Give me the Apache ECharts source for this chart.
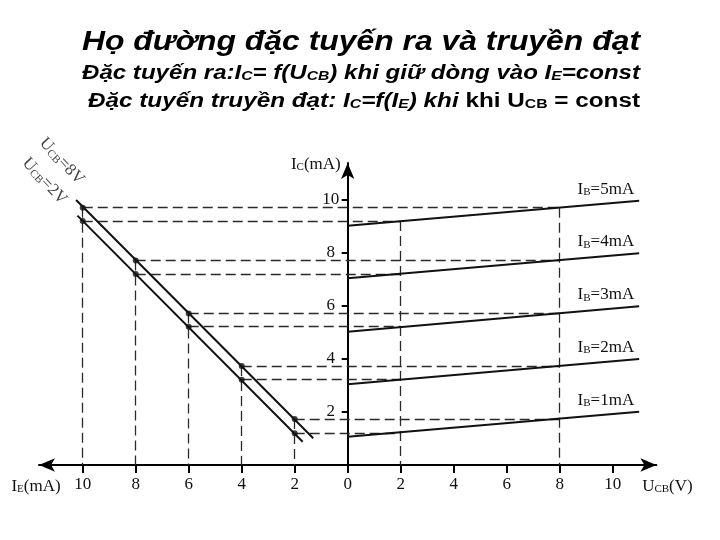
<!DOCTYPE html>
<html>
<head>
<meta charset="utf-8">
<script src="https://cdn.jsdelivr.net/npm/echarts@6/dist/echarts.min.js"></script>
<style>
  html, body { margin: 0; padding: 0; background: #fff; }
  #chart { width: 720px; height: 540px; }
</style>
</head>
<body>
<div id="chart"></div>
<script>
// tick values
const ieTicks = [10, 8, 6, 4, 2];
const ucbTicks = [0, 2, 4, 6, 8, 10];
const icTicks = [2, 4, 6, 8, 10];

// transfer characteristic IC = f(IE), dots read at IE = 10, 8, 6, 4, 2
const iePoints = [10, 8, 6, 4, 2];
const icAt8V = [9.71, 7.72, 5.72, 3.74, 1.74];
const icAt2V = [9.21, 7.21, 5.22, 3.22, 1.20];
// ends of the two transfer lines, [IE, IC]
const line8V = [[10.25, 10.0], [1.30, 1.01]];
const line2V = [[10.2, 9.41], [1.70, 0.88]];
const ucbCurves = ['8V', '2V'];
const ucbGuides = [8, 2];            // UCB where each family meets the output curves
const ucbLabelAt = [[10.75, 11.5], [11.4, 10.75]];  // [IE, IC] centre of rotated labels

// output characteristic IC = f(UCB) for IB = 5..1 mA
const ibValues = [5, 4, 3, 2, 1];
const icAtUcbStart = [9.03, 7.05, 5.03, 3.05, 1.07];
const icAtUcbEnd = [9.97, 7.99, 5.99, 4.00, 2.01];
const ucbStart = 0;
const ucbEnd = 11;

const SERIF = '"Liberation Serif", "Times New Roman", serif';
const SANS = '"Liberation Sans", Arial, sans-serif';
const INK = '#111';

const serifRich = {
  n: { fontFamily: SERIF, fontSize: 17, color: INK, lineHeight: 20, verticalAlign: 'bottom' },
  s: { fontFamily: SERIF, fontSize: 11, color: INK, lineHeight: 12, verticalAlign: 'bottom' }
};
const withSub = (main, s, rest) => `{n|${main}}{s|${s}}{n|${rest}}`;

// title lines, fragments of [text, style]
const titleLines = [
  [['Họ đường đặc tuyến ra và truyền đạt', 't']],
  [['Đặc tuyến ra:I', 'i'], ['C', 'is'], ['= f(U', 'i'], ['CB', 'is'], [') khi giữ dòng vào I', 'i'], ['E', 'is'], ['=const', 'i']],
  [['Đặc tuyến truyền đạt: I', 'i'], ['C', 'is'], ['=f(I', 'i'], ['E', 'is'], [') khi', 'i'], [' khi U', 'n'], ['CB', 'ns'], [' = const', 'n']]
];
const titleFonts = {
  t: ['italic', 'bold', 27],
  i: ['italic', 'bold', 20],
  is: ['italic', 'bold', 13],
  n: ['normal', 'bold', 20],
  ns: ['normal', 'bold', 13]
};
const titleBox = [
  { x: 361, y: 40, w: 558 },
  { x: 361, y: 71, w: 558 },
  { x: 364, y: 99, w: 552 }
];

const titleRich = {};
Object.keys(titleFonts).forEach(k => {
  const [st, wt, size] = titleFonts[k];
  const small = k === 'is' || k === 'ns';
  titleRich[k] = {
    fontFamily: SANS, fontStyle: st, fontWeight: wt, fontSize: size, fill: '#000',
    lineHeight: k === 't' ? 32 : (small ? 14 : 24), verticalAlign: 'bottom'
  };
});

const ctx = document.createElement('canvas').getContext('2d');
function measure(parts) {
  return parts.reduce((w, [t, k]) => {
    const [st, wt, size] = titleFonts[k];
    ctx.font = `${st} ${wt} ${size}px "Liberation Sans"`;
    return w + ctx.measureText(t).width;
  }, 0);
}

const graphic = titleLines.map((parts, k) => ({
  type: 'text',
  x: titleBox[k].x,
  y: titleBox[k].y,
  scaleX: titleBox[k].w / measure(parts),
  style: {
    text: parts.map(([t, s]) => `{${s}|${t}}`).join(''),
    rich: titleRich,
    align: 'center',
    verticalAlign: 'middle'
  }
}));

// dashed guide segments
const guides = [];
iePoints.forEach((ie, i) => {
  guides.push({ coords: [[-ie, icAt8V[i]], [ucbGuides[0], icAt8V[i]]] });
  guides.push({ coords: [[-ie, icAt2V[i]], [ucbGuides[1], icAt2V[i]]] });
  guides.push({ coords: [[-ie, icAt8V[i]], [-ie, 0]] });
});
guides.push({ coords: [[ucbGuides[0], icAt8V[0]], [ucbGuides[0], 0]] });
guides.push({ coords: [[ucbGuides[1], icAt2V[0]], [ucbGuides[1], 0]] });

const series = [
  {
    type: 'lines',
    coordinateSystem: 'cartesian2d',
    silent: true,
    z: 1,
    lineStyle: { color: '#2a2a2a', width: 1.3, type: [10, 5], opacity: 1, curveness: 0 },
    data: guides
  }
];

[line8V, line2V].forEach(line => {
  series.push({
    type: 'line',
    data: line.map(([ie, ic]) => [-ie, ic]),
    showSymbol: false,
    lineStyle: { color: INK, width: 2 },
    z: 3
  });
});

series.push({
  type: 'scatter',
  data: iePoints.flatMap((ie, i) => [[-ie, icAt8V[i]], [-ie, icAt2V[i]]]),
  symbolSize: 6,
  itemStyle: { color: INK },
  z: 4
});

series.push({
  type: 'scatter',
  clip: false,
  symbolSize: 0,
  data: ucbLabelAt.map(([ie, ic], k) => ({
    value: [-ie, ic],
    label: { formatter: withSub('U', 'CB', '=' + ucbCurves[k]) }
  })),
  label: { show: true, position: 'inside', rotate: -47, rich: serifRich },
  z: 5
});

ibValues.forEach((ib, i) => {
  series.push({
    type: 'line',
    symbol: 'circle',
    symbolSize: 0,
    showSymbol: true,
    lineStyle: { color: INK, width: 2 },
    itemStyle: { color: INK },
    z: 3,
    data: [
      [ucbStart, icAtUcbStart[i]],
      {
        value: [ucbEnd, icAtUcbEnd[i]],
        label: {
          show: true,
          position: 'inside',
          align: 'right',
          verticalAlign: 'middle',
          offset: [-5, -13],
          formatter: withSub('I', 'B', '=' + ib + 'mA'),
          rich: serifRich
        }
      }
    ]
  });
});

const xTickValues = ieTicks.map(v => -v).concat(ucbTicks);
const tickFont = { fontFamily: SERIF, fontSize: 17, color: INK };
const gridBox = { left: 39, right: 63.6, top: 162.9, bottom: 75 };
// shift of the IC axis from the grid's left edge to x = 0
const icAxisShift = -(720 - gridBox.left - gridBox.right) / 2;

const option = {
  animation: false,
  backgroundColor: '#fff',
  graphic: graphic,
  grid: [gridBox, gridBox],
  xAxis: [
    {
      type: 'value',
      gridIndex: 0,
      min: -11.65,
      max: 11.65,
      axisLine: {
        onZero: true,
        symbol: ['arrow', 'arrow'],
        symbolSize: [10, 16],
        lineStyle: { color: '#000', width: 2 }
      },
      axisTick: { customValues: xTickValues, length: 8, lineStyle: { color: '#000', width: 2 } },
      axisLabel: {
        customValues: xTickValues,
        margin: 11,
        formatter: v => String(Math.abs(v)),
        ...tickFont
      },
      splitLine: { show: false },
      name: withSub('U', 'CB', '(V)'),
      nameLocation: 'end',
      nameGap: 11,
      nameTextStyle: { align: 'center', verticalAlign: 'top', padding: [10, 0, 0, 0], rich: serifRich }
    },
    {
      type: 'value',
      gridIndex: 1,
      min: -11.65,
      max: 11.65,
      axisLine: { show: false },
      axisTick: { show: false },
      axisLabel: { show: false },
      splitLine: { show: false },
      name: withSub('I', 'E', '(mA)'),
      nameLocation: 'start',
      nameGap: 3,
      nameTextStyle: { align: 'center', verticalAlign: 'top', padding: [10, 0, 0, 0], rich: serifRich }
    }
  ],
  yAxis: [
    {
      type: 'value',
      gridIndex: 0,
      min: 0,
      max: 11.4,
      offset: icAxisShift,
      axisLine: {
        onZero: false,
        symbol: ['none', 'arrow'],
        symbolSize: [10, 16],
        lineStyle: { color: '#000', width: 2 }
      },
      axisTick: { customValues: icTicks, length: 6, lineStyle: { color: '#000', width: 2 } },
      axisLabel: { customValues: icTicks, align: 'center', margin: 17, ...tickFont },
      splitLine: { show: false },
      name: withSub('I', 'C', '(mA)'),
      nameLocation: 'end',
      nameGap: 0,
      nameTextStyle: { align: 'right', verticalAlign: 'middle', padding: [0, 7, 0, 0], rich: serifRich }
    },
    { type: 'value', gridIndex: 1, show: false, min: 0, max: 11.4 }
  ],
  series: series
};

const chart = echarts.init(document.getElementById('chart'));
chart.setOption(option);
</script>
</body>
</html>
